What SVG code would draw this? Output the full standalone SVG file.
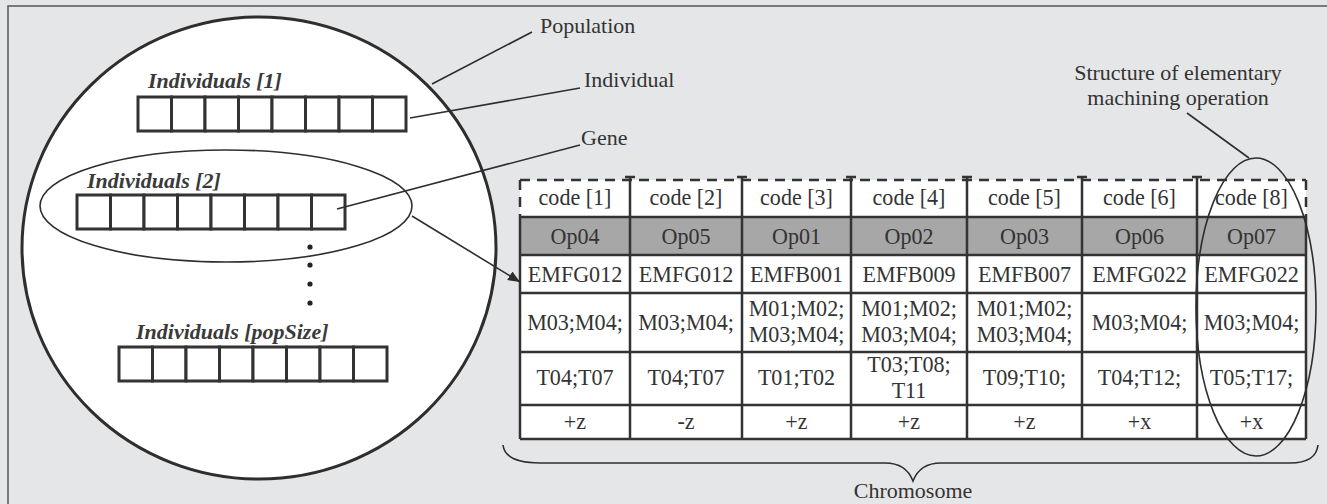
<svg xmlns="http://www.w3.org/2000/svg" width="1327" height="504" viewBox="0 0 1327 504">
<style>
.lbl{font-family:"Liberation Serif","Times New Roman",serif;font-size:22px;fill:#333}
.ind{font-family:"Liberation Serif","Times New Roman",serif;font-size:22px;font-weight:bold;font-style:italic;fill:#3a3a3a}
.tt{font-family:"Liberation Serif","Times New Roman",serif;font-size:23px;fill:#333;text-anchor:middle}
.ln{stroke:#2e2e2e;stroke-width:1.6;fill:none}
.cell{fill:#fff;stroke:#333;stroke-width:3}
.grid{stroke:#333;stroke-width:2.5;fill:none}
</style>
<defs>
<marker id="ah" viewBox="0 0 12 10" refX="12" refY="5" markerWidth="12" markerHeight="10" markerUnits="userSpaceOnUse" orient="auto">
<path d="M0,0 L12,5 L0,10 Z" fill="#2e2e2e"/>
</marker>
<g id="arr">
<rect class="cell" x="0" y="0" width="33.5" height="34"/>
<rect class="cell" x="33.5" y="0" width="33.5" height="34"/>
<rect class="cell" x="67" y="0" width="33.5" height="34"/>
<rect class="cell" x="100.5" y="0" width="33.5" height="34"/>
<rect class="cell" x="134" y="0" width="33.5" height="34"/>
<rect class="cell" x="167.5" y="0" width="33.5" height="34"/>
<rect class="cell" x="201" y="0" width="33.5" height="34"/>
<rect class="cell" x="234.5" y="0" width="33.5" height="34"/>
</g>
</defs>
<rect x="0" y="0" width="1327" height="504" fill="#e5e6e8"/>
<rect x="8" y="6" width="1340" height="520" fill="none" stroke="#555" stroke-width="1.5"/>

<g id="population">
<ellipse cx="259" cy="248" rx="237" ry="231" fill="#fff" stroke="#2e2e2e" stroke-width="3"/>
</g>
<g id="individual1">
<text class="ind" x="148" y="88">Individuals [1]</text>
<use href="#arr" x="138" y="97"/>
</g>
<g id="individual2">
<ellipse cx="226" cy="206" rx="186" ry="56" fill="none" stroke="#2e2e2e" stroke-width="1.6"/>
<text class="ind" x="87" y="188">Individuals [2]</text>
<use href="#arr" x="77" y="195"/>
</g>
<g id="dots" fill="#222">
<circle cx="310" cy="247" r="2.6"/>
<circle cx="310" cy="265" r="2.6"/>
<circle cx="310" cy="284" r="2.6"/>
<circle cx="310" cy="303" r="2.6"/>
</g>
<g id="individualN">
<text class="ind" x="136" y="339">Individuals [popSize]</text>
<use href="#arr" x="119" y="347"/>
</g>

<g id="labels">
<text class="lbl" x="540" y="33">Population</text>
<text class="lbl" x="584" y="87">Individual</text>
<text class="lbl" x="581" y="145">Gene</text>
<text class="lbl" x="1178" y="80" text-anchor="middle" font-size="21">Structure of elementary</text>
<text class="lbl" x="1178" y="105" text-anchor="middle" font-size="21">machining operation</text>
<text class="lbl" x="913" y="498" text-anchor="middle">Chromosome</text>
</g>

<g id="chromosome-table">
<rect x="520" y="180" width="786" height="37" fill="#fff"/>
<rect x="520" y="217" width="786" height="38" fill="#a7a7a7"/>
<rect x="520" y="255" width="786" height="184" fill="#fff"/>
<path d="M520,180 H1306 M520,180 V217 M1306,180 V217" stroke="#333" stroke-width="2.5" stroke-dasharray="10,7" fill="none"/>
<path class="grid" d="M520,217 H1306 M520,255 H1306 M520,293 H1306 M520,352 H1306 M520,405 H1306 M520,439 H1306 M520,217 V439 M1306,217 V439"/>
<path class="grid" d="M630,177 V439 M742,177 V439 M851,177 V439 M967,177 V439 M1082,177 V439 M1197,177 V439"/>
<path class="grid" d="M625,177 H635 M737,177 H747 M846,177 H856 M962,177 H972 M1077,177 H1087 M1192,177 H1202" stroke-width="1.5"/>
<g>
<text class="tt" transform="translate(575,205) scale(0.96,1)">code [1]</text>
<text class="tt" transform="translate(686,205) scale(0.96,1)">code [2]</text>
<text class="tt" transform="translate(796.5,205) scale(0.96,1)">code [3]</text>
<text class="tt" transform="translate(909,205) scale(0.96,1)">code [4]</text>
<text class="tt" transform="translate(1024.5,205) scale(0.96,1)">code [5]</text>
<text class="tt" transform="translate(1139.5,205) scale(0.96,1)">code [6]</text>
<text class="tt" transform="translate(1251.5,205) scale(0.96,1)">code [8]</text>

<text class="tt" transform="translate(575,244) scale(0.96,1)">Op04</text>
<text class="tt" transform="translate(686,244) scale(0.96,1)">Op05</text>
<text class="tt" transform="translate(796.5,244) scale(0.96,1)">Op01</text>
<text class="tt" transform="translate(909,244) scale(0.96,1)">Op02</text>
<text class="tt" transform="translate(1024.5,244) scale(0.96,1)">Op03</text>
<text class="tt" transform="translate(1139.5,244) scale(0.96,1)">Op06</text>
<text class="tt" transform="translate(1251.5,244) scale(0.96,1)">Op07</text>

<text class="tt" transform="translate(575,282) scale(0.96,1)">EMFG012</text>
<text class="tt" transform="translate(686,282) scale(0.96,1)">EMFG012</text>
<text class="tt" transform="translate(796.5,282) scale(0.96,1)">EMFB001</text>
<text class="tt" transform="translate(909,282) scale(0.96,1)">EMFB009</text>
<text class="tt" transform="translate(1024.5,282) scale(0.96,1)">EMFB007</text>
<text class="tt" transform="translate(1139.5,282) scale(0.96,1)">EMFG022</text>
<text class="tt" transform="translate(1251.5,282) scale(0.96,1)">EMFG022</text>

<text class="tt" transform="translate(575,330) scale(0.96,1)">M03;M04;</text>
<text class="tt" transform="translate(686,330) scale(0.96,1)">M03;M04;</text>
<text class="tt" transform="translate(796.5,316) scale(0.96,1)">M01;M02;</text>
<text class="tt" transform="translate(796.5,342) scale(0.96,1)">M03;M04;</text>
<text class="tt" transform="translate(909,316) scale(0.96,1)">M01;M02;</text>
<text class="tt" transform="translate(909,342) scale(0.96,1)">M03;M04;</text>
<text class="tt" transform="translate(1024.5,316) scale(0.96,1)">M01;M02;</text>
<text class="tt" transform="translate(1024.5,342) scale(0.96,1)">M03;M04;</text>
<text class="tt" transform="translate(1139.5,330) scale(0.96,1)">M03;M04;</text>
<text class="tt" transform="translate(1251.5,330) scale(0.96,1)">M03;M04;</text>

<text class="tt" transform="translate(575,385) scale(0.96,1)">T04;T07</text>
<text class="tt" transform="translate(686,385) scale(0.96,1)">T04;T07</text>
<text class="tt" transform="translate(796.5,385) scale(0.96,1)">T01;T02</text>
<text class="tt" transform="translate(909,372) scale(0.96,1)">T03;T08;</text>
<text class="tt" transform="translate(909,398) scale(0.96,1)">T11</text>
<text class="tt" transform="translate(1024.5,385) scale(0.96,1)">T09;T10;</text>
<text class="tt" transform="translate(1139.5,385) scale(0.96,1)">T04;T12;</text>
<text class="tt" transform="translate(1251.5,385) scale(0.96,1)">T05;T17;</text>

<text class="tt" transform="translate(575,429) scale(0.96,1)">+z</text>
<text class="tt" transform="translate(686,429) scale(0.96,1)">-z</text>
<text class="tt" transform="translate(796.5,429) scale(0.96,1)">+z</text>
<text class="tt" transform="translate(909,429) scale(0.96,1)">+z</text>
<text class="tt" transform="translate(1024.5,429) scale(0.96,1)">+z</text>
<text class="tt" transform="translate(1139.5,429) scale(0.96,1)">+x</text>
<text class="tt" transform="translate(1251.5,429) scale(0.96,1)">+x</text>
</g>
</g>

<g id="structure-ellipse">
<ellipse cx="1256" cy="307" rx="60" ry="149" fill="none" stroke="#2e2e2e" stroke-width="1.6"/>
</g>

<g id="connectors">
<path class="ln" d="M432,84 L532,32"/>
<path class="ln" d="M410,118 L580,88"/>
<path class="ln" d="M337,209 L580,145"/>
<path class="ln" d="M412,216 L520,282" marker-end="url(#ah)"/>
<path class="ln" d="M1187,113 L1249,158"/>
<path class="ln" stroke-width="2" d="M503,445 Q505,463 540,463 L885,463 Q906,463 913,481 Q920,463 941,463 L1290,463 Q1316,463 1318,445"/>
</g>
</svg>
